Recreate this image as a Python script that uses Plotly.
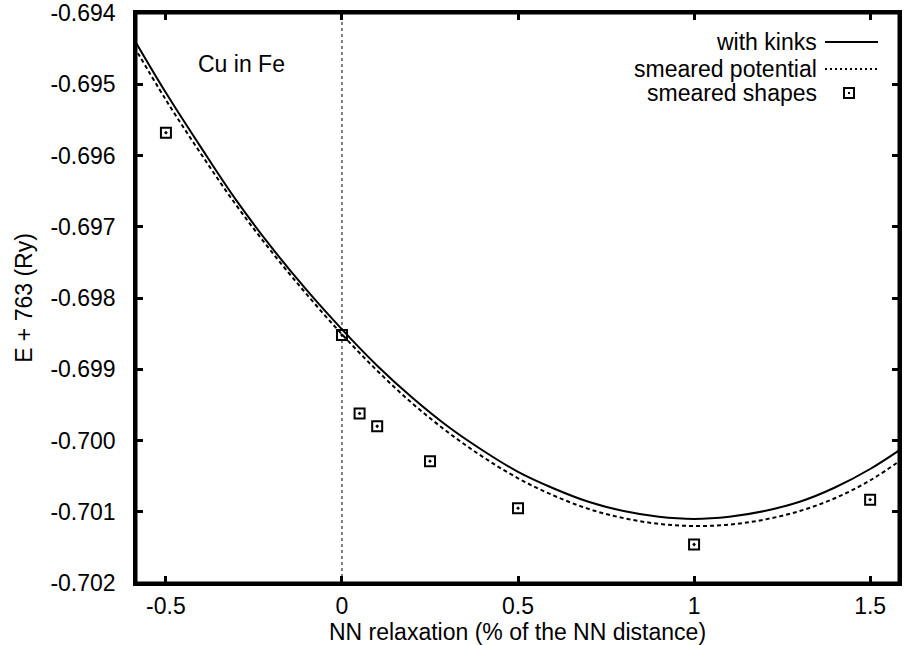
import plotly.graph_objects as go

# ---- data ----
curve_x = [-0.6, -0.5, -0.4, -0.3, -0.2, -0.1, 0.0, 0.1, 0.2, 0.3, 0.4, 0.5,
           0.6, 0.7, 0.8, 0.9, 1.0, 1.1, 1.2, 1.3, 1.4, 1.5, 1.6]
with_kinks = [-0.69429, -0.69512, -0.69589, -0.69663, -0.69729, -0.69789, -0.69844,
              -0.69895, -0.69940, -0.69980, -0.70014, -0.70044, -0.70067, -0.70086,
              -0.70099, -0.70107, -0.70110, -0.70107, -0.70099, -0.70086, -0.70066,
              -0.70040, -0.70008]
smeared_potential = [-0.69439, -0.69522, -0.69598, -0.69670, -0.69735, -0.69795, -0.69851,
                     -0.69902, -0.69948, -0.69988, -0.70023, -0.70053, -0.70077, -0.70096,
                     -0.70109, -0.70117, -0.70120, -0.70118, -0.70111, -0.70099, -0.70081,
                     -0.70056, -0.70023]
shapes_x = [-0.5, 0.0, 0.05, 0.1, 0.25, 0.5, 1.0, 1.5]
shapes_y = [-0.69568, -0.69852, -0.69962, -0.69980, -0.70029, -0.70095, -0.70146, -0.70083]

x_range = [-0.585, 1.582]
y_range = [-0.702, -0.694]
x_tickvals = [-0.5, 0, 0.5, 1, 1.5]
x_ticktext = ["-0.5", "0", "0.5", "1", "1.5"]
y_tickvals = [-0.694, -0.695, -0.696, -0.697, -0.698, -0.699, -0.700, -0.701, -0.702]
y_ticktext = ["-0.694", "-0.695", "-0.696", "-0.697", "-0.698", "-0.699", "-0.700", "-0.701", "-0.702"]

legend_labels = ["with kinks", "smeared potential", "smeared shapes"]
x_title = "NN relaxation (% of the NN distance)"
y_title = "E + 763 (Ry)"
note = "Cu in Fe"

FONT = "Liberation Sans, Arial, Helvetica, sans-serif"
DASH = "4px,3px"
PAD = "\u00a0\u00a0"

fig = go.Figure()
fig.add_trace(go.Scatter(x=curve_x, y=with_kinks, mode="lines", name=legend_labels[0],
                         line=dict(color="black", width=2, shape="spline"), showlegend=False))
fig.add_trace(go.Scatter(x=curve_x, y=smeared_potential, mode="lines", name=legend_labels[1],
                         line=dict(color="black", width=2, dash=DASH, shape="spline"),
                         showlegend=False))
fig.add_trace(go.Scatter(x=shapes_x, y=shapes_y, mode="markers", name=legend_labels[2],
                         marker=dict(symbol="square-open-dot", size=10, color="black",
                                     line=dict(width=2, color="black")),
                         showlegend=False))

fig.add_vline(x=0, line=dict(color="black", width=1, dash="dot"))

# plot frame
fig.add_shape(type="rect", xref="paper", yref="paper", x0=0, x1=1, y0=0, y1=1,
              line=dict(color="black", width=3), layer="above")

# manual gnuplot-style legend (text left, sample right)
L, R, T, B = 136, 899, 13, 583
def px(x):
    return (x - L) / (R - L)
def py(y):
    return (B - y) / (B - T)

rows_y = [42, 69, 93]
for lab, yy in zip(legend_labels, rows_y):
    fig.add_annotation(x=px(819), y=py(yy), xref="paper", yref="paper", text=lab,
                       showarrow=False, xanchor="right", yanchor="middle",
                       font=dict(family=FONT, size=23, color="black"))
fig.add_shape(type="line", xref="paper", yref="paper", x0=px(825), x1=px(878),
              y0=py(rows_y[0]), y1=py(rows_y[0]), line=dict(color="black", width=2))
fig.add_shape(type="line", xref="paper", yref="paper", x0=px(825), x1=px(878),
              y0=py(rows_y[1]), y1=py(rows_y[1]), line=dict(color="black", width=2, dash="2px,3px"))
fig.add_shape(type="rect", xref="paper", yref="paper", xsizemode="pixel", ysizemode="pixel",
              xanchor=px(849), yanchor=py(rows_y[2]), x0=-5, x1=5, y0=-5, y1=5,
              line=dict(color="black", width=2))
fig.add_shape(type="rect", xref="paper", yref="paper", xsizemode="pixel", ysizemode="pixel",
              xanchor=px(849), yanchor=py(rows_y[2]), x0=-1, x1=1, y0=-1, y1=1,
              line=dict(color="black", width=0), fillcolor="black")

fig.add_annotation(x=-0.284, y=-0.69472, text=note, showarrow=False,
                   font=dict(family=FONT, size=23, color="black"))

fig.update_layout(
    width=907, height=645,
    margin=dict(l=L, r=907 - R, t=T, b=645 - B, autoexpand=False),
    paper_bgcolor="white", plot_bgcolor="white",
    font=dict(family=FONT, size=23, color="black"),
    xaxis=dict(range=x_range, tickvals=x_tickvals, ticktext=x_ticktext,
               ticks="inside", ticklen=7, tickwidth=3, tickcolor="black",
               showline=True, linewidth=3, linecolor="black", mirror="allticks",
               showgrid=False, zeroline=False, automargin=False,
               tickfont=dict(family=FONT, size=23),
               title=dict(text=x_title, standoff=6, font=dict(family=FONT, size=23))),
    yaxis=dict(range=y_range, tickvals=y_tickvals, ticktext=[t + PAD for t in y_ticktext],
               ticks="inside", ticklen=7, tickwidth=3, tickcolor="black",
               showline=True, linewidth=3, linecolor="black", mirror="allticks",
               showgrid=False, zeroline=False, automargin=False,
               tickfont=dict(family=FONT, size=23),
               title=dict(text=y_title, standoff=12, font=dict(family=FONT, size=23))),
)

fig.write_html("out.html", config={"displayModeBar": False},
               post_script="document.body.style.margin='0';document.body.style.overflow='hidden';")
